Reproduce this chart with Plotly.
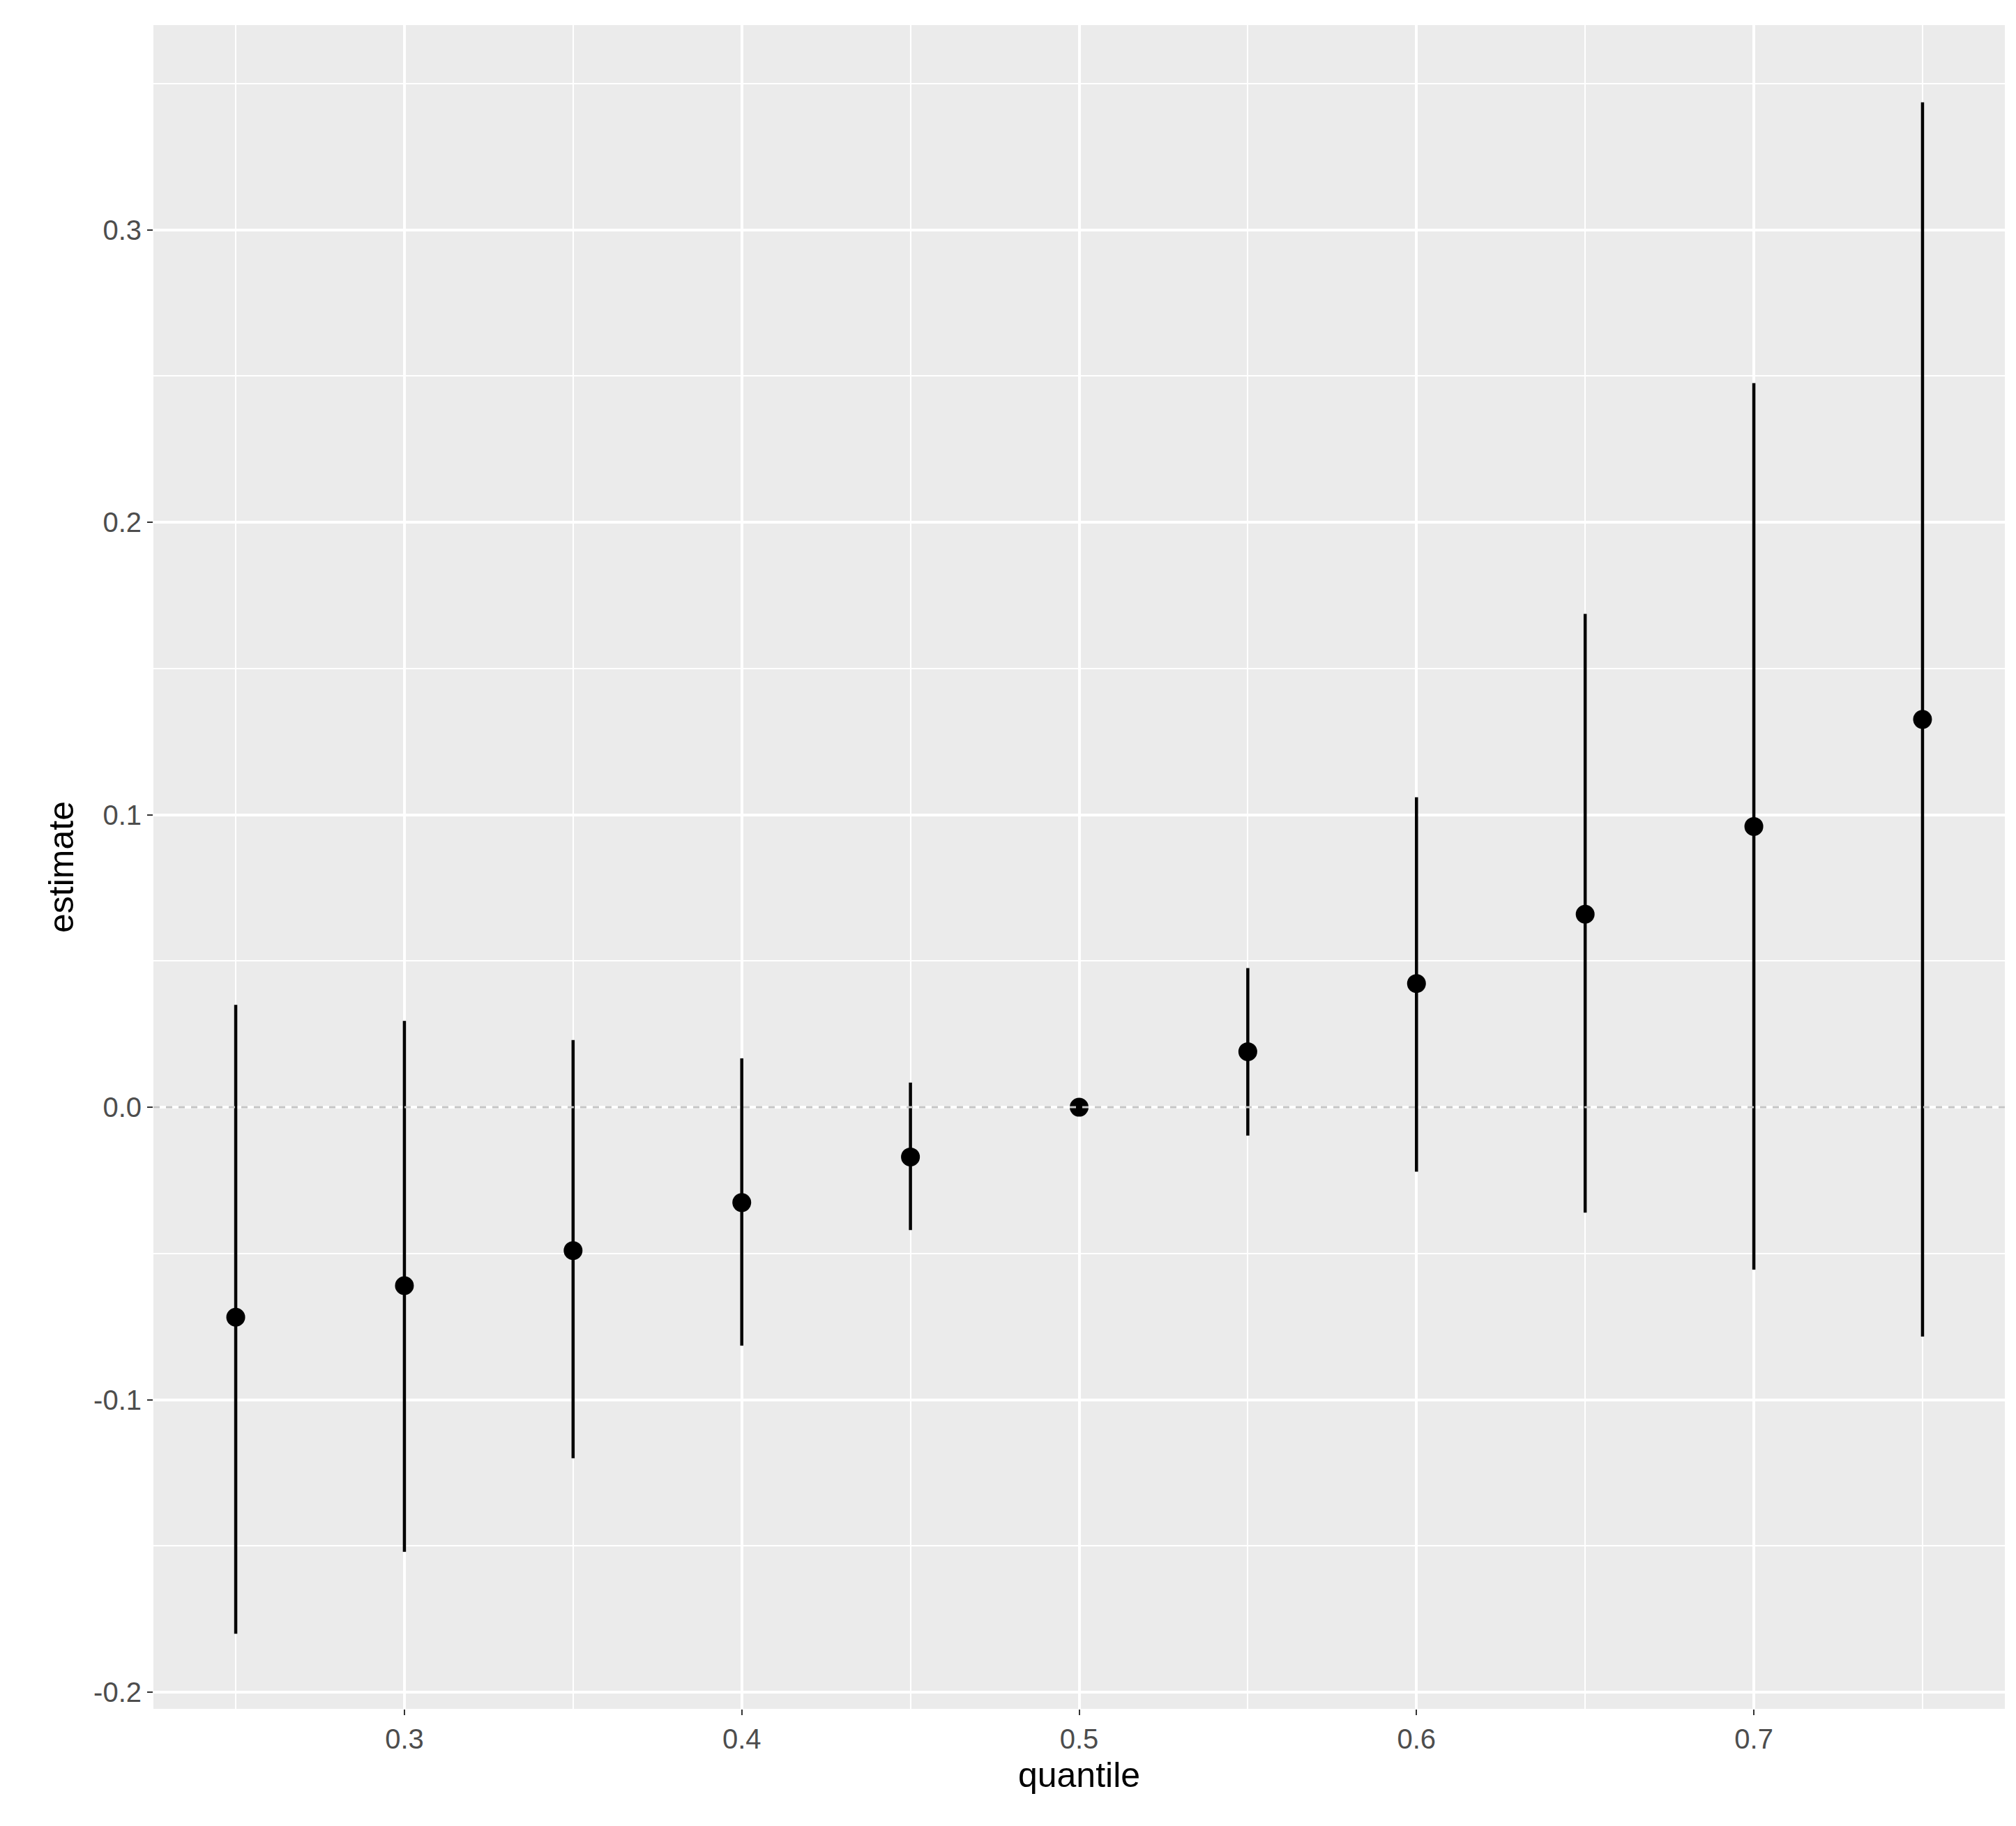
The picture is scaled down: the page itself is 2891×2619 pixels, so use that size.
import plotly.graph_objects as go

quantile = [0.25, 0.30, 0.35, 0.40, 0.45, 0.50, 0.55, 0.60, 0.65, 0.70, 0.75]
estimate = [-0.0718, -0.061, -0.049, -0.0326, -0.017, 0.0, 0.019, 0.0423, 0.066, 0.096, 0.1326]
lower = [-0.180, -0.152, -0.120, -0.0815, -0.042, 0.0, -0.0097, -0.022, -0.036, -0.0555, -0.0784]
upper = [0.035, 0.0295, 0.023, 0.0167, 0.0084, 0.0, 0.0476, 0.106, 0.1687, 0.2476, 0.3436]

fig = go.Figure()
fig.add_hline(y=0, line=dict(color="#c4c4c4", width=3, dash="dash"), layer="above")
fig.add_trace(go.Scatter(
    x=quantile, y=estimate, mode="markers",
    marker=dict(color="black", size=27),
    error_y=dict(type="data", symmetric=False,
                 array=[u - e for u, e in zip(upper, estimate)],
                 arrayminus=[e - l for e, l in zip(estimate, lower)],
                 color="black", thickness=4.5, width=0),
    showlegend=False))

fig.update_layout(
    width=2891, height=2619,
    paper_bgcolor="white", plot_bgcolor="#ebebeb",
    margin=dict(l=212, r=24, t=28, b=176),
    font=dict(family="Liberation Sans, Arial", color="#4d4d4d", size=40),
    xaxis=dict(range=[0.2256, 0.7744], tickvals=[0.3, 0.4, 0.5, 0.6, 0.7],
               ticktext=["0.3", "0.4", "0.5", "0.6", "0.7"],
               gridcolor="white", gridwidth=4, zeroline=False,
               ticks="outside", ticklen=8, tickcolor="#333", tickwidth=2,
               minor=dict(dtick=0.05, tick0=0.25, gridcolor="white", gridwidth=2, showgrid=True),
               title=dict(text="quantile", font=dict(size=50, color="black"), standoff=12)),
    yaxis=dict(range=[-0.2057, 0.370], tickvals=[-0.2, -0.1, 0.0, 0.1, 0.2, 0.3],
               ticktext=["-0.2", "-0.1", "0.0", "0.1", "0.2", "0.3"],
               gridcolor="white", gridwidth=4, zeroline=False,
               ticks="outside", ticklen=8, tickcolor="#333", tickwidth=2,
               minor=dict(dtick=0.05, tick0=-0.25, gridcolor="white", gridwidth=2, showgrid=True),
               title=dict(text="estimate", font=dict(size=50, color="black"), standoff=12)),
)
fig.write_html("out.html")
